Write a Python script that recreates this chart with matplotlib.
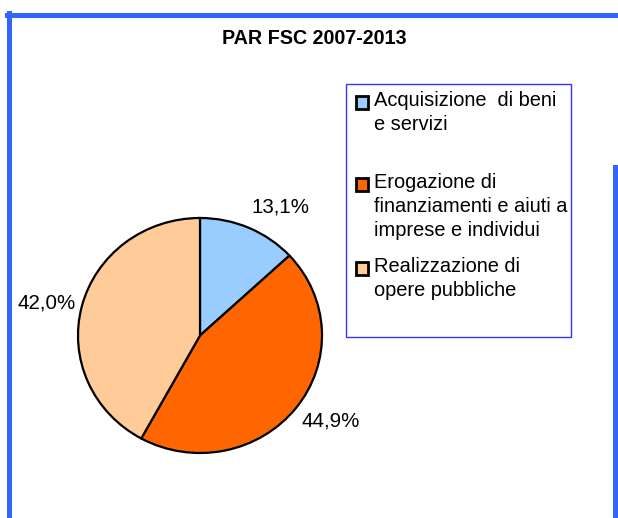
import matplotlib
matplotlib.use("Agg")
import matplotlib.pyplot as plt
from matplotlib.patches import Rectangle
from matplotlib.lines import Line2D

W, H = 618, 518

title = "PAR FSC 2007-2013"
categories = [
    "Acquisizione  di beni\ne servizi",
    "Erogazione di\nfinanziamenti e aiuti a\nimprese e individui",
    "Realizzazione di\nopere pubbliche",
]
values = [13.1, 44.9, 42.0]
colors = ["#99CCFF", "#FF6600", "#FFCC99"]

# label positions in pie units (excel puts them a bit off the radius)
label_pos = [(0.66, 1.09), (1.07, -0.73), (-1.26, 0.28)]
# baseline of first line of each legend entry, in pixels
legend_base = [106, 188, 272]
LINE_H = 24

plt.rcParams["font.family"] = ["Liberation Sans", "DejaVu Sans"]

def fx(px):
    return px / W

def fy(py):
    return 1 - py / H

fig = plt.figure(figsize=(W / 100, H / 100), dpi=100)

# blue frame pieces (chart is cropped out of a larger page)
fig.add_artist(Line2D([fx(8.5), fx(8.5)], [fy(13), fy(518)], color="#3366FF", lw=3.6))
fig.add_artist(Line2D([fx(7), fx(618)], [fy(15), fy(15)], color="#3366FF", lw=3.6))
fig.add_artist(Line2D([fx(615), fx(615)], [fy(167), fy(518)], color="#3366FF", lw=3.6))

fig.text(fx(314), fy(39), title, ha="center", va="center",
         fontsize=14.2, fontweight="bold")

ax = fig.add_axes([fx(78), fy(453), fx(244), 235 / H])
wedges, _ = ax.pie(values, colors=colors, startangle=90, counterclock=False,
                   wedgeprops=dict(edgecolor="black", linewidth=1.6))
for w in wedges:
    w.set_clip_on(False)
ax.set_aspect("auto")
ax.set_xlim(-1, 1)
ax.set_ylim(-1, 1)

for v, (lx, ly) in zip(values, label_pos):
    ax.text(lx, ly, ("%.1f%%" % v).replace(".", ","), ha="center", va="center",
            fontsize=14.8, clip_on=False)

# legend box
fig.add_artist(Rectangle((fx(346), fy(337)), fx(225), (337 - 84) / H,
                         fill=False, edgecolor="#3333FF", lw=1.0))
for cat, col, base in zip(categories, colors, legend_base):
    fig.add_artist(Rectangle((fx(355.5), fy(base + 2.5)), fx(12.5), 12.5 / H,
                             facecolor=col, edgecolor="black", lw=2.0))
    for i, line in enumerate(cat.split("\n")):
        fig.text(fx(374), fy(base + i * LINE_H), line, ha="left", va="baseline",
                 fontsize=14.4)

fig.savefig("out.png", dpi=100, facecolor="white")
